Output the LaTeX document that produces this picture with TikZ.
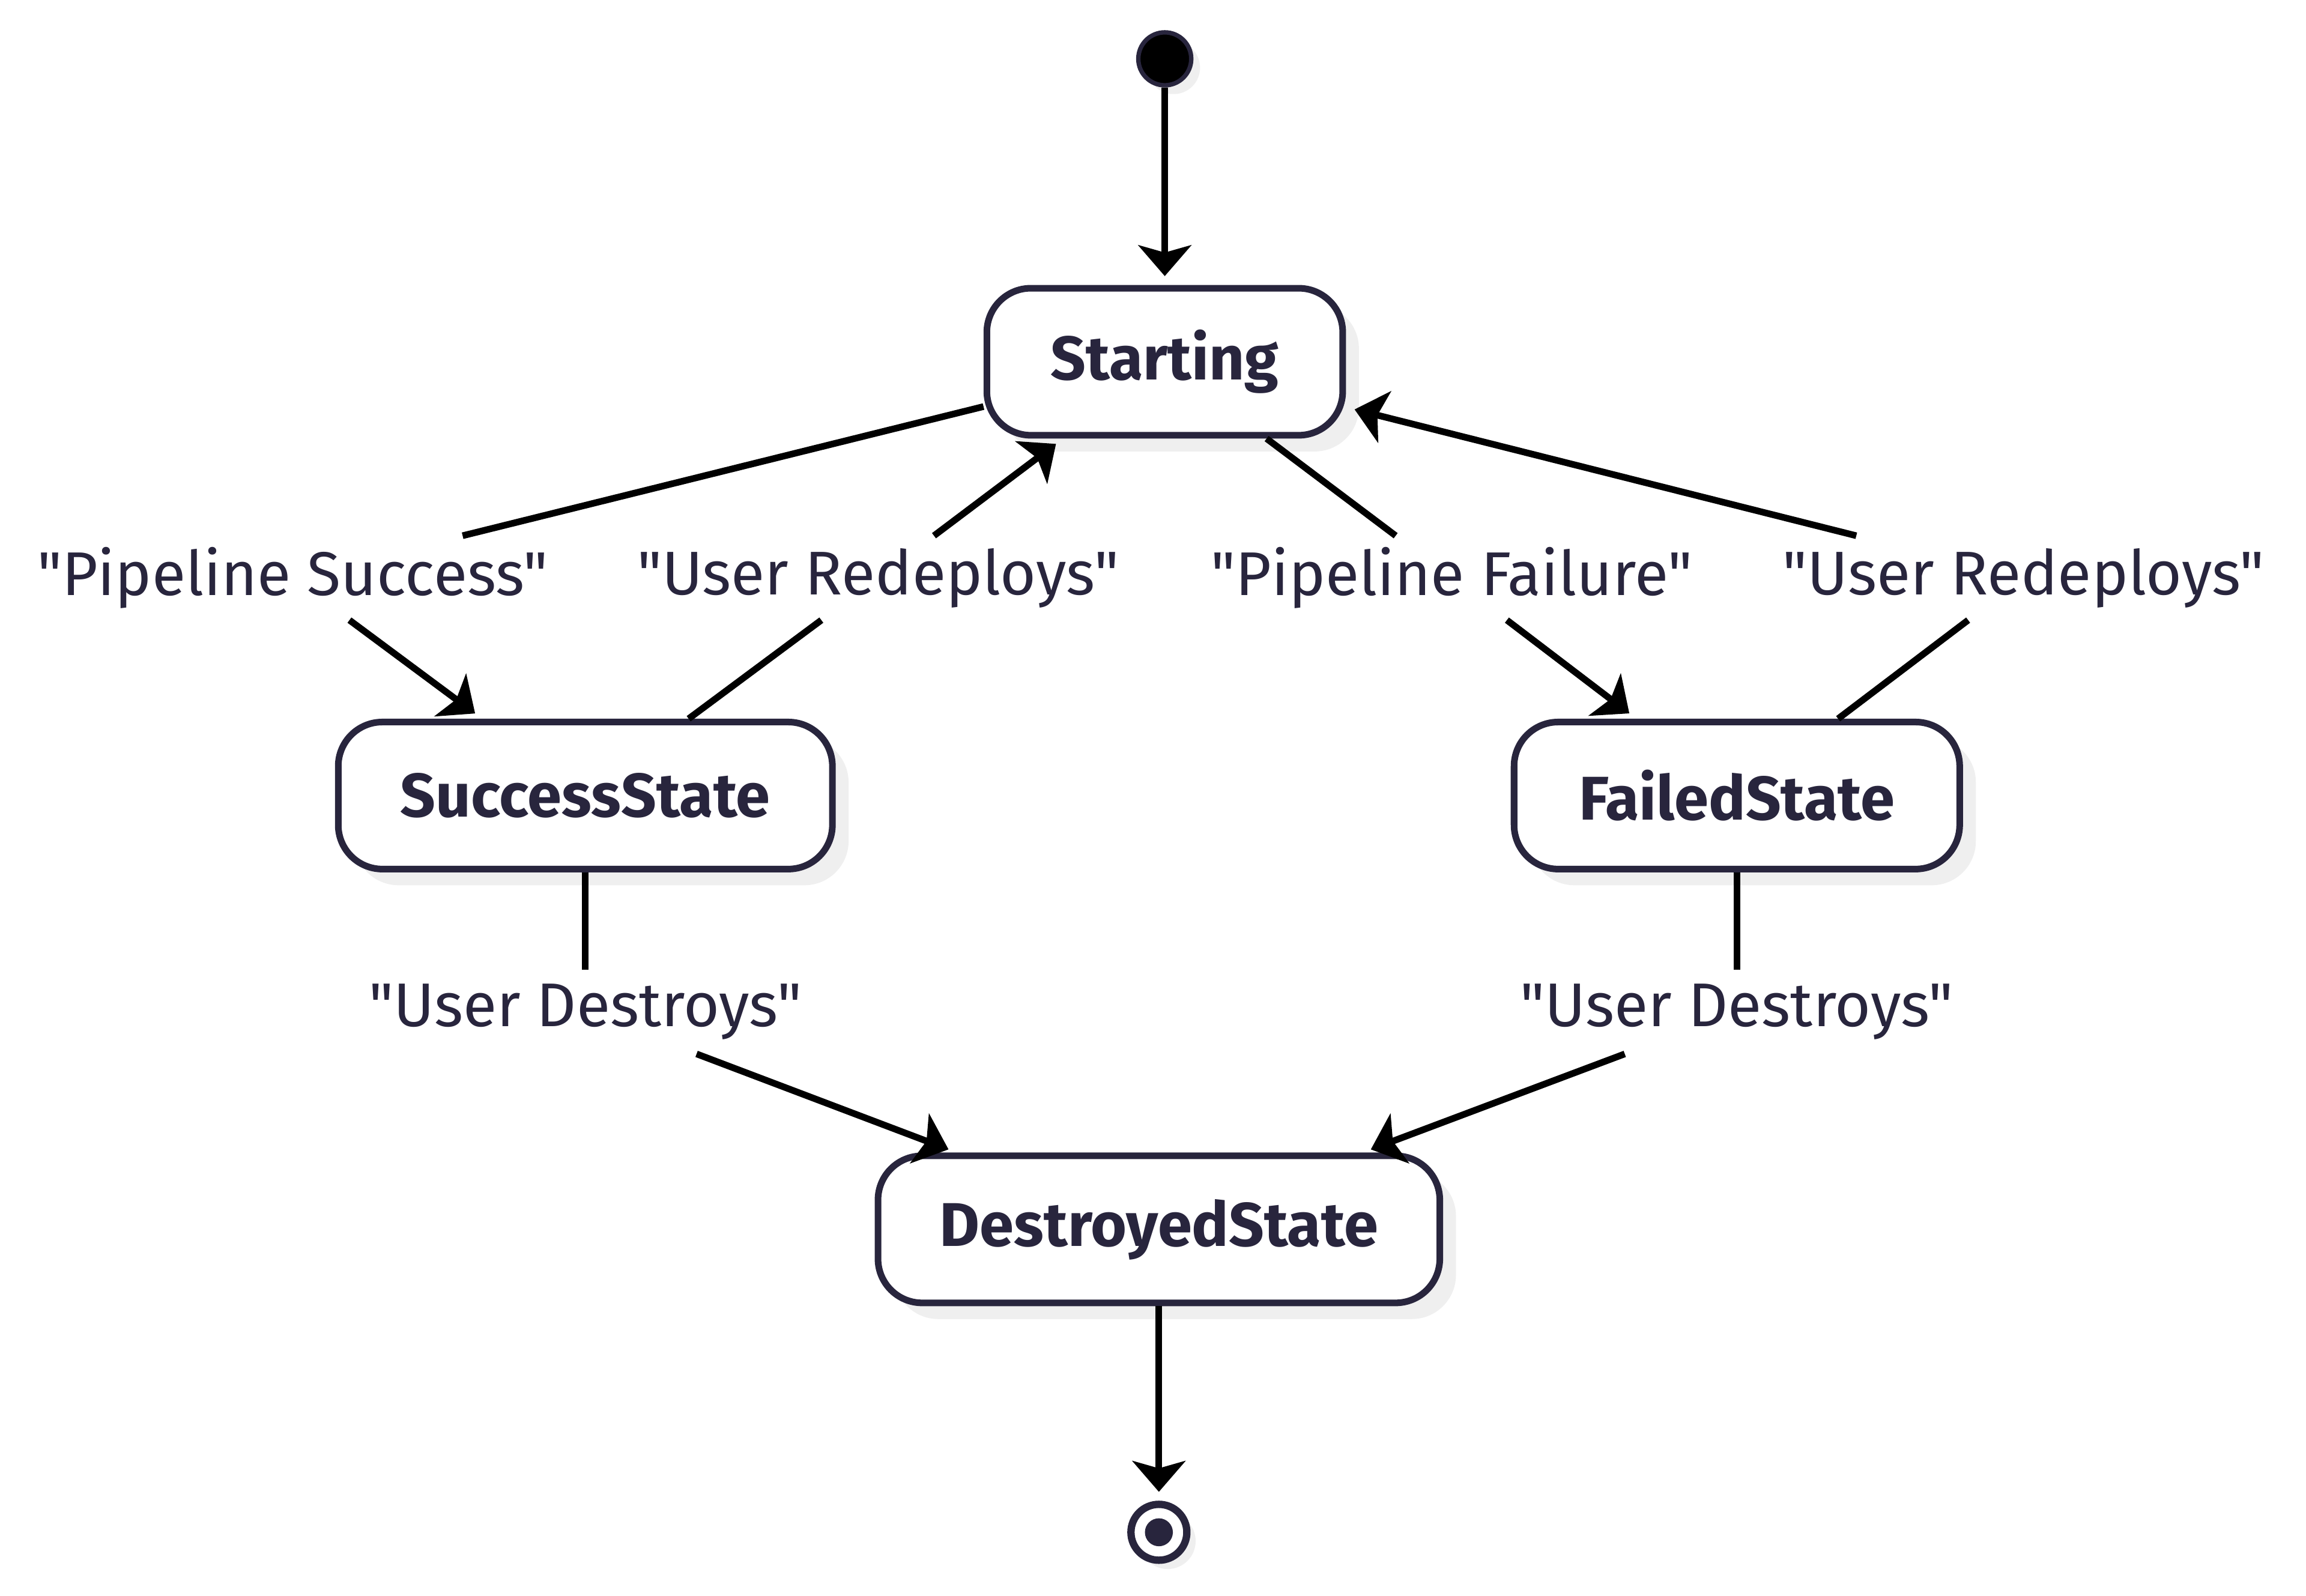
\documentclass[tikz,border=0pt]{standalone}
\usepackage{fontspec}
\setmainfont{Fira Sans}[Ligatures=TeXOff]
\usetikzlibrary{arrows.meta,shadows}
\definecolor{ink}{HTML}{28253D}
\definecolor{shade}{HTML}{EFEFEF}
\begin{document}
\begin{tikzpicture}[x=1pt,y=-1pt]
    \useasboundingbox (0,0) rectangle (1568,1085);
    \begin{scope}
        \tikzstyle{every node}=[fill=white, draw=ink, rectangle, rounded corners=30pt, line width=4.5pt, text=ink, font=\fontsize{42}{50}\selectfont\bfseries, minimum height=100pt, inner sep=0pt, drop shadow={shadow xshift=11pt, shadow yshift=-11pt, fill=shade, opacity=1}]
        \node[minimum width=242pt] (starting) at (792,246) {Starting};
        \node[minimum width=336pt] (success) at (398,541) {SuccessState};
        \node[minimum width=303pt] (failed) at (1181,541) {FailedState};
        \node[minimum width=382pt] (destroyed) at (788,836) {DestroyedState};
    \end{scope}
    \begin{scope}
        \tikzstyle{every node}=[circle, draw=ink, inner sep=0pt, drop shadow={shadow xshift=6pt, shadow yshift=-6pt, fill=shade, opacity=1}]
        \node[fill=black, line width=3pt, minimum size=36pt] (init) at (792,40) {};
        \node[fill=white, line width=5pt, minimum size=38pt, path picture={\fill[ink] (path picture bounding box.center) circle (9.5pt);}] (final) at (788,1042) {};
    \end{scope}
    \begin{scope}
        \tikzstyle{every node}=[text=ink, font=\fontsize{42}{50}\selectfont, minimum height=57pt, inner xsep=4pt, inner ysep=0pt]
        \node (l1) at (199,393) {"Pipeline Success"};
        \node (l2) at (597,393) {"User Redeploys"};
        \node (l3) at (987,393) {"Pipeline Failure"};
        \node (l4) at (1376,393) {"User Redeploys"};
        \node (l5) at (398,688) {"User Destroys"};
        \node (l6) at (1181,688) {"User Destroys"};
    \end{scope}
    \begin{scope}
        \tikzstyle{every edge}=[draw, black, line width=4.5pt, -{Stealth[length=21pt, width=36pt, inset=5pt]}, shorten >=6pt]
        \path
        (init) edge (starting)
        (starting) edge[-, shorten >=0pt] (l1)
        (l1) edge (success)
        (success) edge[-, shorten >=0pt] (l2)
        (l2) edge (starting)
        (starting) edge[-, shorten >=0pt] (l3)
        (l3) edge (failed)
        (failed) edge[-, shorten >=0pt] (l4)
        (l4) edge (starting)
        (success) edge[-, shorten >=0pt] (l5)
        (l5) edge (destroyed)
        (failed) edge[-, shorten >=0pt] (l6)
        (l6) edge (destroyed)
        (destroyed) edge (final);
    \end{scope}
\end{tikzpicture}
\end{document}
